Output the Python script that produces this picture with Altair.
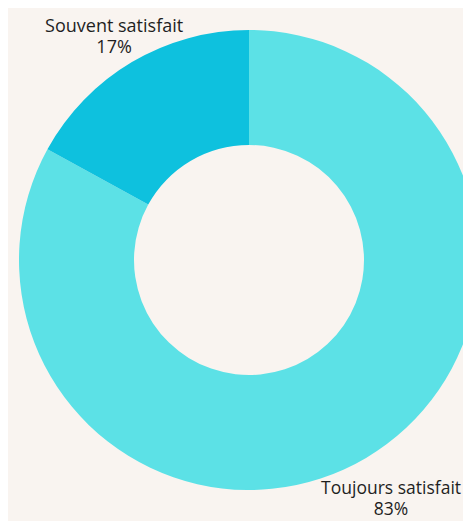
import altair as alt
import pandas as pd

categories = ["Toujours satisfait", "Souvent satisfait"]
values = [83, 17]
labels = ["Toujours satisfait\n83%", "Souvent satisfait\n17%"]
colors = ["#5ce1e6", "#0ec1de"]

df = pd.DataFrame({"cat": categories, "val": values, "label": labels, "ord": [0, 1]})

CX, CY = 241, 252

arcs = alt.Chart(df).mark_arc(outerRadius=230, innerRadius=115, stroke=None).encode(
    theta=alt.Theta("val:Q", stack=True),
    order=alt.Order("ord:Q"),
    color=alt.Color("cat:N", scale=alt.Scale(domain=categories, range=colors), legend=None),
    x=alt.value(CX), y=alt.value(CY),
)

txt_base = alt.Chart(df).transform_joinaggregate(
    total="sum(val)"
).transform_window(
    cum="sum(val)", sort=[alt.SortField("ord")]
).transform_calculate(
    mid="(datum.cum - datum.val / 2) / datum.total * 2 * PI",
)


def label_layer(cat, radius, dx, dy, size):
    return txt_base.transform_filter(alt.datum.cat == cat).mark_text(
        font="Open Sans", fontSize=size, lineBreak="\n", lineHeight=21,
        color="#1f1f1f", align="center", baseline="alphabetic",
        radius=radius, dx=dx, dy=dy,
    ).encode(
        text="label:N",
        theta=alt.Theta("mid:Q", scale=None, stack=False),
        x=alt.value(CX), y=alt.value(CY),
    )


txt_top = label_layer("Souvent satisfait", 265, 0, 0, 18)
txt_bot = label_layer("Toujours satisfait", 285, -3, -11, 17.5)

chart = alt.layer(arcs, txt_top, txt_bot).resolve_scale(theta="independent").properties(
    width=455, height=513, padding=0, autosize="none", background="#f9f4f0"
).configure_view(stroke=None)

chart.save("out.html", embed_options={"renderer": "svg", "actions": False})
